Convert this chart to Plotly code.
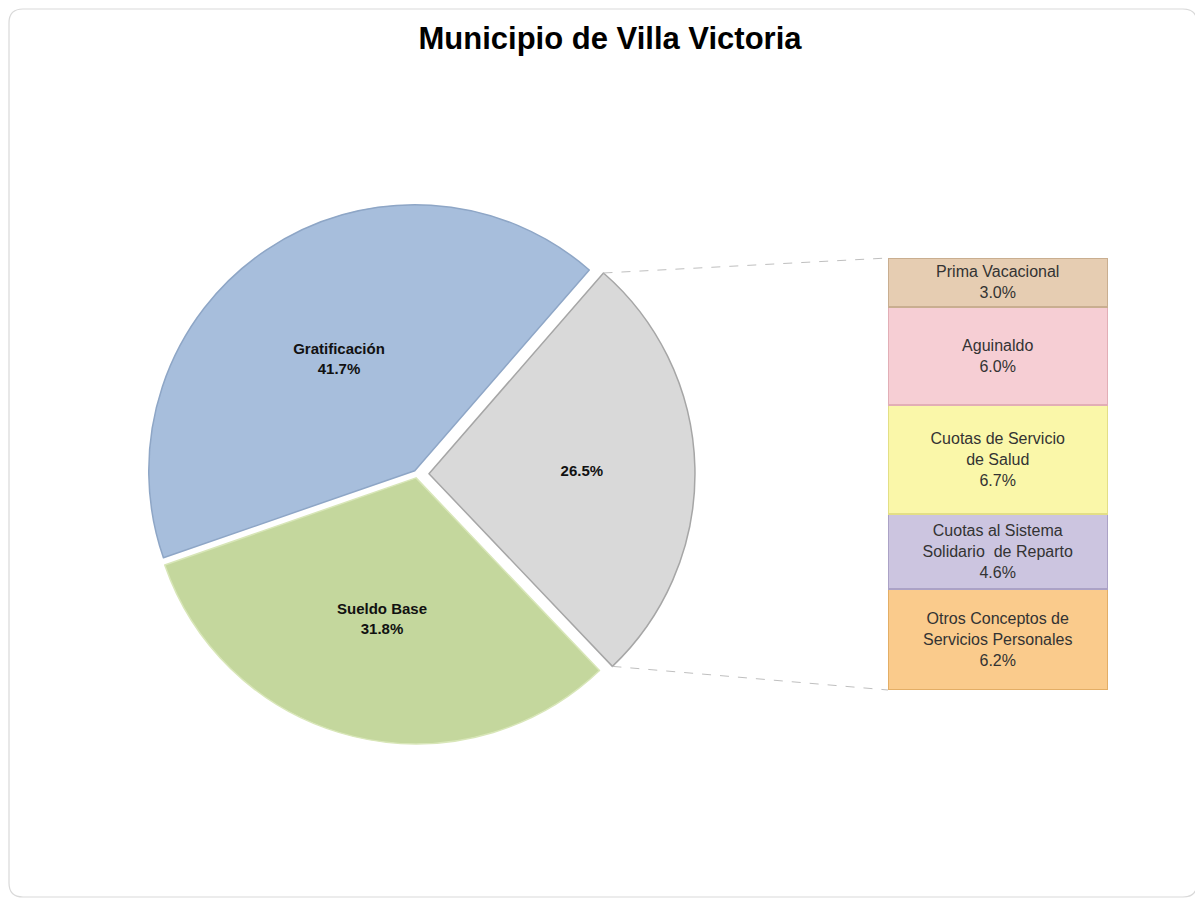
import math
import plotly.graph_objects as go

# ---------------- data ----------------
title_text = "Municipio de Villa Victoria"

pie_labels = ["Gratificación", "Sueldo Base", "Otros"]
pie_values = [41.7, 31.8, 26.5]
pie_colors = ["#A7BEDC", "#C4D79D", "#D9D9D9"]
pie_lines = ["#8EA6C6", "#D8E6B8", "#A6A6A6"]
pie_show_label = [True, True, False]
pie_pull = [0.015, 0.015, 0.045]

bar_labels = [
    "Prima Vacacional",
    "Aguinaldo",
    "Cuotas de Servicio<br>de Salud",
    "Cuotas al Sistema<br>Solidario  de Reparto",
    "Otros Conceptos de<br>Servicios Personales",
]
bar_values = [3.0, 6.0, 6.7, 4.6, 6.2]
bar_colors = ["#E6CDB2", "#F6CED4", "#FAF7A9", "#CCC5E0", "#FACB8C"]
bar_lines = ["#C9AE90", "#E2AEB6", "#E3DF86", "#ABA2C6", "#E3AE66"]

# ---------------- layout geometry (page pixels, body margin 8px) ----------------
M = 8
W, H = 1203 - M, 899 - M


def fx(x):
    return (x - M) / W


def fy(y):
    return 1 - (y - M) / H


pie_cx, pie_cy, pie_r = 417, 474, 266
rotation = 41  # degrees clockwise from 12 o'clock where first (gray) slice starts
max_pull = max(pie_pull)
box = pie_r * (2 + 2 * max_pull)
pie_domain_x = [fx(pie_cx - box / 2), fx(pie_cx + box / 2)]
pie_domain_y = [fy(pie_cy + box / 2), fy(pie_cy - box / 2)]

bar_left, bar_right, bar_top, bar_bottom = 888, 1108, 258, 690
bar_domain_x = [fx(bar_left), fx(bar_right)]
bar_domain_y = [fy(bar_bottom), fy(bar_top)]

fig = go.Figure()

# pie drawn clockwise starting with the gray slice
order = [2, 1, 0]
pie_text = []
for i in order:
    if pie_show_label[i]:
        pie_text.append(f"<b>{pie_labels[i]}<br>{pie_values[i]:.1f}%</b>")
    else:
        pie_text.append(f"<b>{pie_values[i]:.1f}%</b>")

fig.add_trace(go.Pie(
    labels=[pie_labels[i] for i in order],
    values=[pie_values[i] for i in order],
    text=pie_text,
    textinfo="text",
    textposition="inside",
    insidetextorientation="horizontal",
    sort=False,
    direction="clockwise",
    rotation=rotation,
    pull=[pie_pull[i] for i in order],
    marker=dict(colors=[pie_colors[i] for i in order],
                line=dict(color=[pie_lines[i] for i in order], width=1.5)),
    textfont=dict(family="Liberation Sans, Arial", size=15, color="#111111"),
    domain=dict(x=pie_domain_x, y=pie_domain_y),
    showlegend=False,
    hoverinfo="label+percent",
))

# stacked bar: bottom first
for k in reversed(range(len(bar_labels))):
    fig.add_trace(go.Bar(
        x=[0],
        y=[bar_values[k]],
        width=1,
        xaxis="x2",
        yaxis="y2",
        marker=dict(color=bar_colors[k], line=dict(color=bar_lines[k], width=2.5)),
        text=[f"{bar_labels[k]}<br>{bar_values[k]:.1f}%"],
        textposition="inside",
        insidetextanchor="middle",
        textangle=0,
        constraintext="none",
        textfont=dict(family="Liberation Sans, Arial", size=16, color="#333333"),
        showlegend=False,
        name=bar_labels[k].replace("<br>", " "),
    ))

# connector lines from gray slice edges to bar corners
gray_share = pie_values[2] / sum(pie_values)
a0 = math.radians(rotation)
a1 = math.radians(rotation + 360 * gray_share)
amid = (a0 + a1) / 2
off = pie_pull[2] * pie_r
gcx = pie_cx + off * math.sin(amid)
gcy = pie_cy - off * math.cos(amid)
p_top = (gcx + pie_r * math.sin(a0), gcy - pie_r * math.cos(a0))
p_bot = (gcx + pie_r * math.sin(a1), gcy - pie_r * math.cos(a1))

shapes = []
for (px, py), by in [(p_top, bar_top), (p_bot, bar_bottom)]:
    shapes.append(dict(type="line", xref="paper", yref="paper",
                       x0=fx(px), y0=fy(py), x1=fx(bar_left), y1=fy(by),
                       line=dict(color="#BFBFBF", width=1, dash="dash")))


# rounded outer frame
def P(x, y):
    return f"{fx(x):.5f},{fy(y):.5f}"


L, T, R, B, rr = 9, 9, 1197, 897, 14
frame_path = (f"M {P(L + rr, T)} L {P(R - rr, T)} Q {P(R, T)} {P(R, T + rr)} "
              f"L {P(R, B - rr)} Q {P(R, B)} {P(R - rr, B)} "
              f"L {P(L + rr, B)} Q {P(L, B)} {P(L, B - rr)} "
              f"L {P(L, T + rr)} Q {P(L, T)} {P(L + rr, T)} Z")
shapes.append(dict(type="path", xref="paper", yref="paper", path=frame_path,
                   line=dict(color="#D9D9D9", width=1.2), layer="below"))

fig.update_layout(
    width=W, height=H,
    margin=dict(l=0, r=0, t=0, b=0),
    paper_bgcolor="white",
    plot_bgcolor="white",
    barmode="stack",
    bargap=0,
    title=dict(text=f"<b>{title_text}</b>", x=fx(610), xanchor="center",
               y=fy(38), yanchor="middle",
               font=dict(family="Liberation Sans, Arial", size=31, color="#000000")),
    xaxis2=dict(domain=bar_domain_x, range=[-0.5, 0.5], visible=False,
                anchor="y2", fixedrange=True),
    yaxis2=dict(domain=bar_domain_y, range=[0, sum(bar_values)], visible=False,
                anchor="x2", fixedrange=True),
    xaxis=dict(visible=False),
    yaxis=dict(visible=False),
    shapes=shapes,
)

fig.write_html("out.html")
